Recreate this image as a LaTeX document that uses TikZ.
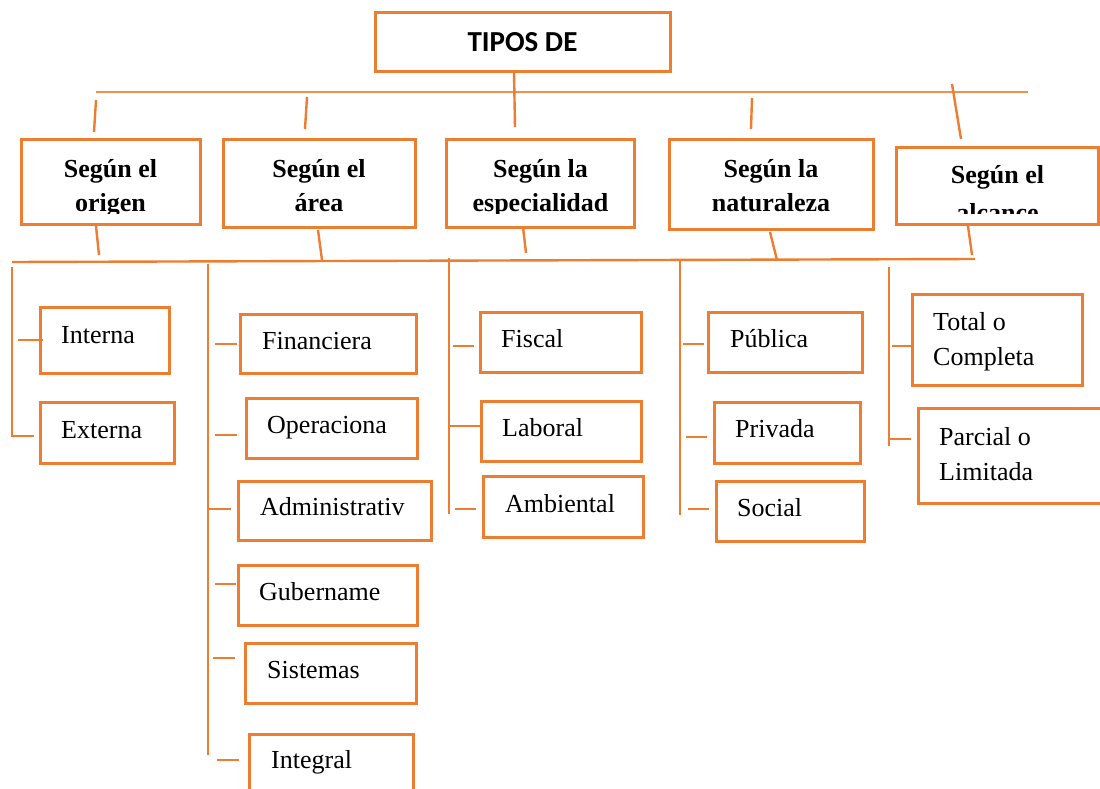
\documentclass[tikz,border=0pt]{standalone}
\usepackage{fontspec}
\setmainfont{Liberation Serif}
\newfontfamily\titlefont{Carlito}
\definecolor{orgline}{RGB}{237,125,49}

% rectangle frame given by its corners: name, x1, y1, x2, y2
\newcommand\obox[5]{%
  \node[frame, minimum width={(#4)-(#2)}, minimum height={(#5)-(#3)}]
    (#1) at ({((#2)+(#4))/2},{((#3)+(#5))/2}) {};}

\tikzset{
  frame/.style={draw=orgline, line width=3pt, inner sep=0pt, outer sep=0pt},
  link/.style={draw=orgline, line width=2.4pt},
  thinlink/.style={draw=orgline!85, line width=1.4pt},
  titletext/.style={font=\titlefont\bfseries\fontsize{29}{34}\selectfont, anchor=base, inner sep=0pt},
  head/.style={font=\bfseries\fontsize{26}{34}\selectfont, anchor=base, inner sep=0pt},
  leaf/.style={font=\fontsize{26}{34}\selectfont, anchor=base west, inner sep=0pt},
}

\begin{document}
\begin{tikzpicture}[x=1pt,y=-1pt]
\useasboundingbox (0,0) rectangle (1100,789);

% ---------- connectors ----------
% upper bus and the drops to the five headings
\coordinate (busA-l) at (96,92);
\coordinate (busA-r) at (1028,92);
\draw[thinlink] (busA-l) -- (busA-r);
\draw[link] (514,72) -- (515,127);
\draw[link] (96,100) -- (94,132);
\draw[link] (307,97) -- (305,129);
\draw[link] (752,98) -- (751,129);
\draw[link] (952,84) -- (961,139);

% lower bus and the drops from the headings
\coordinate (busB-l) at (12,262);
\coordinate (busB-r) at (975,259);
\draw[link] (busB-l) -- (busB-r);
\draw[link] (96,226) -- (99,255);
\draw[link] (318,230) -- (322,260);
\draw[link] (523,227) -- (526,253);
\draw[link] (770,232) -- (777,260);
\draw[link] (968,226) -- (972,255);

% column spines
\draw[link] (12,267) -- (12,437);
\draw[link] (208,264) -- (208,755);
\draw[link] (449,258) -- (449,514);
\draw[link] (680,261) -- (680,515);
\draw[link] (889,267) -- (889,446);

% ticks towards the leaf boxes
\draw[link] (18,340) -- (43,340);
\draw[link] (12,436) -- (34,436);
\draw[link] (215,344) -- (237,344);
\draw[link] (215,435) -- (237,435);
\draw[link] (208,509) -- (231,509);
\draw[link] (215,584) -- (236,584);
\draw[link] (213,658) -- (235,658);
\draw[link] (217,760) -- (239,760);
\draw[link] (453,346) -- (474,346);
\draw[link] (449,426) -- (481,426);
\draw[link] (455,509) -- (476,509);
\draw[link] (683,344) -- (704,344);
\draw[link] (686,437) -- (707,437);
\draw[link] (688,509) -- (709,509);
\draw[link] (892,346) -- (913,346);
\draw[link] (890,439) -- (911,439);

% ---------- frames ----------
\obox{title}{375}{13}{670}{72}
\obox{h1}{21}{140}{200}{224}
\obox{h2}{223}{140}{415}{227}
\obox{h3}{446}{140}{634}{227}
\obox{h4}{669}{140}{873}{229}
\obox{h5}{896}{148}{1098}{224}

\obox{bint}{40}{307}{169}{373}
\obox{bext}{40}{402}{174}{463}
\obox{bfin}{240}{314}{416}{373}
\obox{bope}{246}{398}{417}{458}
\obox{badm}{238}{481}{431}{540}
\obox{bgub}{238}{565}{417}{625}
\obox{bsis}{245}{643}{416}{703}
\obox{bintg}{249}{734}{413}{820}
\obox{bfis}{480}{312}{641}{372}
\obox{blab}{481}{401}{641}{461}
\obox{bamb}{483}{476}{643}{537}
\obox{bpub}{708}{312}{862}{372}
\obox{bpri}{714}{402}{860}{463}
\obox{bsoc}{716}{481}{864}{541}
\obox{btot}{912}{294}{1082}{385}
\obox{bpar}{918}{408}{1110}{503}

% ---------- texts ----------
\node[titletext] (title-t) at (522.5,52) {TIPOS DE};

% heading texts are cut off at the same height
\begin{scope}
  \clip (0,0) rectangle (1100,213.5);
  \node[head] (h1-a) at (110.5,177) {Según el};
  \node[head] (h1-b) at (110.5,211.5) {origen};
  \node[head] (h2-a) at (319,177) {Según el};
  \node[head] (h2-b) at (319,211.5) {área};
  \node[head] (h3-a) at (540.5,177) {Según la};
  \node[head] (h3-b) at (540.5,211.5) {especialidad};
  \node[head] (h4-a) at (771,177) {Según la};
  \node[head] (h4-b) at (771,211) {naturaleza};
  \node[head] (h5-a) at (997.5,183.5) {Según el};
  \node[head] (h5-b) at (997.5,221) {alcance};
\end{scope}

\node[leaf] (t-int) at (61,343) {Interna};
\node[leaf] (t-ext) at (61,438) {Externa};
\node[leaf] (t-fin) at (262,349) {Financiera};
\node[leaf] (t-ope) at (267,433) {Operaciona};
\node[leaf] (t-adm) at (260,515) {Administrativ};
\node[leaf] (t-gub) at (259,600) {Gubername};
\node[leaf] (t-sis) at (267,678) {Sistemas};
\node[leaf] (t-intg) at (271,768) {Integral};
\node[leaf] (t-fis) at (501,347) {Fiscal};
\node[leaf] (t-lab) at (502,436) {Laboral};
\node[leaf] (t-amb) at (505,512) {Ambiental};
\node[leaf] (t-pub) at (730,347) {Pública};
\node[leaf] (t-pri) at (735,437) {Privada};
\node[leaf] (t-soc) at (737,516) {Social};
\node[leaf] (t-tot-a) at (933,330) {Total o};
\node[leaf] (t-tot-b) at (933,365) {Completa};
\node[leaf] (t-par-a) at (939,445) {Parcial o};
\node[leaf] (t-par-b) at (939,480) {Limitada};
\end{tikzpicture}
\end{document}
